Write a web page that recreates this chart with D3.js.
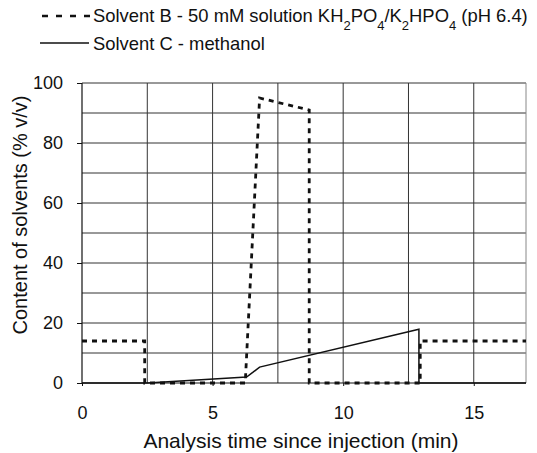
<!DOCTYPE html>
<html>
<head>
<meta charset="utf-8">
<script src="https://cdn.jsdelivr.net/npm/d3@7"></script>
<style>
  body { margin: 0; background: #fff; }
  text { font-family: "Liberation Sans", Arial, sans-serif; fill: #111; }
</style>
</head>
<body>
<div id="chart"></div>
<script>
// Solvent B (dashed) - phosphate buffer
const solventBTime = [0, 2.4, 2.4, 6.25, 6.8, 8.7, 8.7, 12.95, 12.95, 17];
const solventBValue = [14, 14, 0, 0, 95, 91, 0, 0, 14, 14];
// Solvent C (solid) - methanol
const solventCTime = [0, 2.5, 6.3, 6.55, 6.8, 12.9, 12.9, 17];
const solventCValue = [0, 0, 2, 3.6, 5.3, 17.9, 0, 0];

const xTicks = [0, 5, 10, 15];
const yTicks = [0, 20, 40, 60, 80, 100];
const xGrid = [2.5, 5, 7.5, 10, 12.5, 15, 17];
const yGrid = [10, 20, 30, 40, 50, 60, 70, 80, 90, 100];

const legendLabels = ["Solvent B - 50 mM solution KH2PO4/K2HPO4 (pH 6.4)", "Solvent C - methanol"];

const W = 537, H = 453;
const MARGIN = { LEFT: 82, RIGHT: 11, TOP: 83, BOTTOM: 70 };
const width = W - MARGIN.LEFT - MARGIN.RIGHT;
const height = H - MARGIN.TOP - MARGIN.BOTTOM;

const svg = d3.select("#chart").append("svg")
    .attr("width", W)
    .attr("height", H);
const g = svg.append("g")
    .attr("transform", `translate(${MARGIN.LEFT}, ${MARGIN.TOP})`);

const x = d3.scaleLinear().domain([0, 17]).range([0, width]);
const y = d3.scaleLinear().domain([0, 100]).range([height, 0]);

// grid
g.selectAll(".hgrid").data(yGrid).enter().append("line")
    .attr("x1", 0).attr("x2", width)
    .attr("y1", d => y(d)).attr("y2", d => y(d))
    .attr("stroke", "#333").attr("stroke-width", 1);
g.selectAll(".vgrid").data(xGrid).enter().append("line")
    .attr("x1", d => x(d)).attr("x2", d => x(d))
    .attr("y1", 0).attr("y2", height)
    .attr("stroke", d => d === 17 ? "#888" : "#333").attr("stroke-width", 1);

// axes
const xAxis = g.append("g")
    .attr("transform", `translate(0, ${height})`)
    .call(d3.axisBottom(x).tickValues(xTicks).tickSize(3).tickPadding(20).tickFormat(d3.format("d")));
const yAxis = g.append("g")
    .call(d3.axisLeft(y).tickValues(yTicks).tickSize(5).tickPadding(14));
[xAxis, yAxis].forEach(a => {
    a.select(".domain").attr("stroke", "#111").attr("stroke-width", 1.2);
    a.selectAll(".tick line").attr("stroke", "#111");
    a.selectAll("text").attr("font-size", "18px").attr("font-family", "Liberation Sans, Arial, sans-serif").attr("fill", "#111");
});
xAxis.select(".domain").attr("d", `M0,0H${width}`);
yAxis.select(".domain").attr("d", `M0,${height}V0`);

// lines
const line = d3.line().x(d => x(d[0])).y(d => y(d[1]));
const dataB = solventBTime.map((t, i) => [t, solventBValue[i]]);
const dataC = solventCTime.map((t, i) => [t, solventCValue[i]]);

g.append("path")
    .attr("d", line(dataC))
    .attr("fill", "none").attr("stroke", "#111").attr("stroke-width", 1.5);
g.append("path")
    .attr("d", line(dataB))
    .attr("fill", "none").attr("stroke", "#111").attr("stroke-width", 2.8)
    .attr("stroke-dasharray", "5,5");

// axis titles
g.append("text")
    .attr("transform", "rotate(-90)")
    .attr("x", -height / 2 + 18)
    .attr("y", -55)
    .attr("text-anchor", "middle")
    .attr("font-size", "20px")
    .text("Content of solvents (% v/v)");
g.append("text")
    .attr("x", width / 2 - 3)
    .attr("y", height + 65)
    .attr("text-anchor", "middle")
    .attr("font-size", "21px")
    .text("Analysis time since injection (min)");

// legend
const legend = svg.append("g");
legend.append("line")
    .attr("x1", 42).attr("x2", 90).attr("y1", 16).attr("y2", 16)
    .attr("stroke", "#111").attr("stroke-width", 2.5).attr("stroke-dasharray", "6,8");
legend.append("line")
    .attr("x1", 40).attr("x2", 89).attr("y1", 43).attr("y2", 43)
    .attr("stroke", "#111").attr("stroke-width", 1.3);

const sub = 13;
const t1 = legend.append("text").attr("x", 93).attr("y", 22).attr("font-size", "18.4px");
t1.append("tspan").text("Solvent B - 50 mM solution KH");
t1.append("tspan").attr("baseline-shift", "sub").attr("font-size", sub + "px").text("2");
t1.append("tspan").text("PO");
t1.append("tspan").attr("baseline-shift", "sub").attr("font-size", sub + "px").text("4");
t1.append("tspan").text("/K");
t1.append("tspan").attr("baseline-shift", "sub").attr("font-size", sub + "px").text("2");
t1.append("tspan").text("HPO");
t1.append("tspan").attr("baseline-shift", "sub").attr("font-size", sub + "px").text("4");
t1.append("tspan").text(" (pH 6.4)");

legend.append("text").attr("x", 93).attr("y", 50).attr("font-size", "18.4px")
    .text(legendLabels[1]);
</script>
</body>
</html>
